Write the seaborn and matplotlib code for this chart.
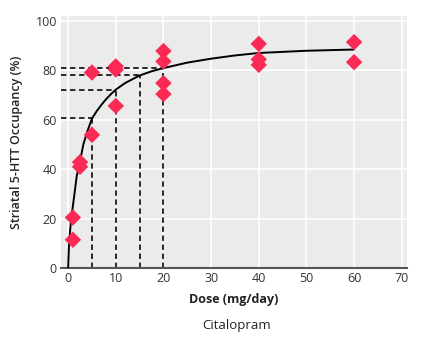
import seaborn as sns
import matplotlib.pyplot as plt
import pandas as pd

# measured occupancy per subject
dose = [1, 1, 2.5, 2.5, 5, 5, 10, 10, 10, 20, 20, 20, 20, 40, 40, 40, 60, 60]
occupancy = [20.4, 11.4, 42.8, 40.9, 79.0, 53.8, 81.5, 80.2, 65.5,
             87.7, 83.5, 74.7, 70.3, 90.6, 84.3, 82.1, 91.3, 83.2]

# fitted curve
curve_dose = [0, 0.2, 0.5, 0.9, 1.4, 1.8, 2.5, 3.2, 4, 5, 6, 7, 8, 9, 10, 12,
              15, 17.5, 20, 25, 30, 35, 40, 50, 60]
curve_occ = [0, 10.0, 17.0, 23.6, 31.0, 37.1, 43.2, 50.0, 55.0, 60.4, 63.4,
             66.0, 68.3, 70.3, 72.1, 74.8, 77.8, 79.5, 80.8, 83.0, 84.6,
             85.9, 86.9, 87.8, 88.3]

# reference doses marked with dashed guides
guide_dose = [5, 10, 15, 20]
guide_occ = [60.8, 72.1, 77.8, 80.8]

pts = pd.DataFrame({"dose": dose, "occ": occupancy})
fit = pd.DataFrame({"dose": curve_dose, "occ": curve_occ})

sns.set_theme(style="darkgrid", rc={"axes.facecolor": "#ebebeb",
                                    "grid.color": "white", "grid.linewidth": 1.2})
plt.rcParams["font.family"] = ["Open Sans", "DejaVu Sans"]

fig = plt.figure(figsize=(4.22, 3.43), dpi=100)
ax = fig.add_axes([0.1445, 0.2187, 0.82, 0.7343])

xmin = -1.5
for d, o in zip(guide_dose, guide_occ):
    ax.plot([xmin, d], [o, o], ls=(0, (3, 2)), color="#1a1a1a", lw=1.3, zorder=2)
    ax.plot([d, d], [0, o], ls=(0, (3, 2)), color="#1a1a1a", lw=1.3, zorder=2)

sns.lineplot(data=fit, x="dose", y="occ", color="black", lw=1.4, ax=ax, zorder=3)
sns.scatterplot(data=pts, x="dose", y="occ", marker="D", s=70, color="#fa2a55",
                edgecolor="none", ax=ax, zorder=4)

ax.set_xlim(xmin, 71.1)
ax.set_ylim(0, 101.8)
ax.set_xticks(range(0, 71, 10))
ax.set_yticks(range(0, 101, 20))
ax.tick_params(axis="both", length=0, labelsize=9, colors="#333333", pad=3)

for s in ["top", "right", "left"]:
    ax.spines[s].set_visible(False)
ax.spines["bottom"].set_visible(True)
ax.spines["bottom"].set_color("#555555")
ax.spines["bottom"].set_linewidth(1.5)

ax.set_xlabel("Dose (mg/day)", fontsize=9, fontweight="bold", color="#222222", labelpad=6)
ax.set_ylabel("Striatal 5-HTT Occupancy (%)", fontsize=9, fontweight="semibold",
              color="#222222", labelpad=9)
fig.text(0.56, 0.052, "Citalopram", ha="center", va="center", fontsize=9.5, color="#222222")

fig.savefig("out.png", dpi=100)
